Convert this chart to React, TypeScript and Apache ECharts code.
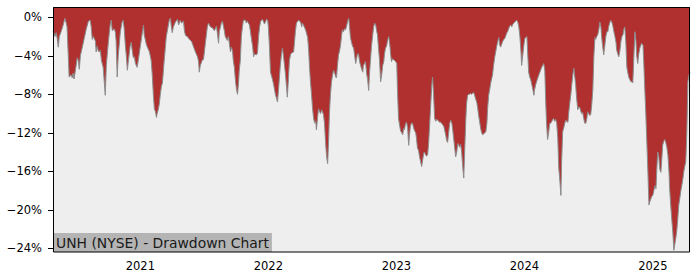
import React, { useEffect, useRef } from "react";
import * as echarts from "echarts";

// Drawdown (%), per year: [month-day, drawdown]
const dd2020: [string, number][] = [
  ["04-27",-1.4],["05-03",-2.0],["05-06",-1.6],["05-09",-2.2],["05-12",-3.1],["05-15",-2.0],["05-20",-1.5],["05-26",-0.8],["05-31",-0.1],["06-03",-0.5],["06-06",-1.0],["06-09",-3.5],["06-12",-6.2],["06-18",-6.0],["06-21",-6.3],["06-23",-5.8],["06-26",-6.4],["07-02",-5.0],["07-05",-4.2],["07-08",-4.5],["07-11",-5.4],["07-14",-4.0],["07-19",-3.2],["07-25",-2.2],["07-31",-1.2],["08-06",-0.4],["08-11",-0.3],["08-14",-1.0],["08-17",-2.3],["08-20",-2.0],["08-26",-2.5],["08-28",-3.6],["08-31",-3.0],["09-03",-3.5],["09-06",-3.6],["09-09",-3.4],["09-12",-4.5],["09-17",-5.2],["09-23",-8.1],["09-26",-5.0],["10-02",-2.5],["10-07",-0.8],["10-10",-0.3],["10-13",-1.4],["10-19",-1.2],["10-22",-1.6],["10-24",-2.5],["10-27",-6.2],["10-30",-4.0],["11-05",-1.5],["11-10",-0.5],["11-13",-0.3],["11-16",-1.2],["11-19",-2.8],["11-22",-4.0],["11-25",-5.5],["11-28",-4.5],["12-03",-3.0],["12-06",-2.6],["12-09",-3.5],["12-12",-4.2],["12-15",-4.1],["12-18",-4.8],["12-23",-5.2],["12-26",-4.5],
];
const dd2021: [string, number][] = [
  ["01-01",-3.0],["01-07",-1.5],["01-10",-0.8],["01-12",-1.8],["01-18",-2.8],["01-21",-3.1],["01-27",-3.6],["02-01",-4.5],["02-04",-6.0],["02-07",-8.0],["02-10",-9.5],["02-13",-9.8],["02-16",-10.4],["02-18",-10.0],["02-21",-9.6],["02-24",-9.0],["02-27",-8.0],["03-02",-7.2],["03-05",-6.8],["03-10",-4.5],["03-16",-2.0],["03-22",-0.8],["03-25",-0.2],["03-28",-0.1],["03-30",-0.9],["04-02",-1.6],["04-05",-1.0],["04-11",-0.5],["04-17",-0.2],["04-20",-0.8],["04-25",-0.3],["04-28",-0.6],["05-04",-0.4],["05-07",-1.5],["05-10",-1.9],["05-15",-2.0],["05-21",-2.3],["05-27",-2.5],["06-01",-3.0],["06-07",-3.6],["06-13",-4.1],["06-16",-4.6],["06-18",-5.7],["06-21",-5.0],["06-27",-4.4],["06-30",-4.4],["07-06",-2.5],["07-11",-1.0],["07-14",-0.6],["07-20",-1.0],["07-26",-1.1],["07-31",-1.4],["08-06",-0.9],["08-12",-2.7],["08-14",-1.5],["08-20",-0.6],["08-23",-0.4],["08-29",-1.5],["08-31",-2.0],["09-06",-2.4],["09-09",-2.0],["09-15",-3.6],["09-18",-3.1],["09-21",-3.6],["09-23",-4.5],["09-26",-5.2],["09-29",-6.5],["10-02",-7.5],["10-05",-8.0],["10-08",-6.8],["10-10",-5.5],["10-13",-4.5],["10-16",-2.0],["10-19",-1.0],["10-22",-0.3],["10-28",-0.3],["10-30",-0.6],["11-02",-0.4],["11-08",-0.8],["11-11",-1.5],["11-14",-2.3],["11-17",-3.0],["11-20",-4.1],["11-22",-3.8],["11-28",-3.9],["12-01",-3.7],["12-04",-2.0],["12-07",-1.0],["12-10",-0.4],["12-15",-0.2],["12-21",-0.7],["12-27",-0.2],["12-30",-0.3],
];
const dd2022: [string, number][] = [
  ["01-01",-1.0],["01-04",-3.0],["01-07",-5.7],["01-13",-6.5],["01-16",-7.0],["01-21",-8.0],["01-27",-8.8],["01-30",-7.5],["02-04",-5.0],["02-07",-4.0],["02-10",-3.2],["02-13",-4.0],["02-16",-5.0],["02-19",-6.0],["02-24",-8.3],["02-27",-6.5],["03-02",-4.5],["03-05",-3.9],["03-08",-3.7],["03-14",-3.6],["03-19",-1.5],["03-22",-0.6],["03-28",-0.3],["04-03",-0.5],["04-06",-1.0],["04-08",-0.6],["04-11",-0.8],["04-17",-1.3],["04-23",-2.1],["04-26",-3.5],["04-28",-5.0],["05-01",-6.7],["05-04",-8.0],["05-07",-9.5],["05-10",-10.5],["05-13",-11.0],["05-16",-10.8],["05-18",-11.7],["05-21",-10.5],["05-24",-9.5],["05-27",-9.8],["05-30",-10.0],["06-02",-9.6],["06-04",-9.8],["06-07",-10.1],["06-10",-11.0],["06-13",-13.0],["06-16",-14.5],["06-19",-15.2],["06-22",-12.5],["06-24",-10.0],["06-27",-8.0],["06-30",-6.7],["07-03",-6.0],["07-06",-5.5],["07-09",-5.8],["07-12",-6.2],["07-14",-6.3],["07-17",-5.0],["07-20",-3.9],["07-23",-3.5],["07-26",-2.8],["07-29",-1.8],["07-31",-1.3],["08-03",-1.5],["08-06",-1.2],["08-09",-1.3],["08-12",-0.9],["08-15",-0.4],["08-18",-0.1],["08-20",-0.8],["08-23",-2.1],["08-26",-2.6],["08-29",-3.0],["09-01",-3.2],["09-04",-4.0],["09-07",-4.8],["09-10",-4.2],["09-12",-3.8],["09-15",-3.8],["09-18",-4.6],["09-21",-5.0],["09-24",-5.4],["09-27",-5.7],["09-29",-5.0],["10-02",-4.8],["10-05",-4.6],["10-08",-5.8],["10-11",-6.5],["10-14",-7.6],["10-16",-6.0],["10-19",-4.5],["10-22",-3.0],["10-25",-2.0],["10-28",-1.0],["10-31",-0.6],["11-03",-0.8],["11-06",-1.5],["11-08",-1.8],["11-11",-3.2],["11-14",-4.5],["11-17",-6.7],["11-20",-6.0],["11-23",-5.0],["11-26",-4.6],["11-28",-3.8],["12-01",-3.2],["12-04",-3.0],["12-07",-2.4],["12-10",-2.0],["12-13",-2.8],["12-16",-4.0],["12-18",-4.6],["12-21",-4.3],["12-24",-4.4],["12-27",-4.5],["12-30",-4.6],
];
const dd2023: [string, number][] = [
  ["01-02",-4.8],["01-04",-7.5],["01-07",-10.5],["01-10",-11.2],["01-13",-11.8],["01-16",-12.0],["01-19",-12.2],["01-22",-11.5],["01-24",-11.7],["01-27",-11.0],["01-30",-10.9],["02-02",-11.5],["02-05",-13.3],["02-08",-12.0],["02-10",-11.3],["02-13",-11.0],["02-16",-11.0],["02-19",-11.5],["02-22",-11.8],["02-25",-12.0],["02-27",-12.5],["03-02",-13.6],["03-05",-13.8],["03-08",-14.5],["03-11",-15.0],["03-14",-15.5],["03-17",-14.8],["03-20",-14.1],["03-22",-14.0],["03-25",-14.3],["03-28",-14.4],["03-31",-14.3],["04-03",-13.0],["04-06",-11.0],["04-09",-9.0],["04-12",-7.0],["04-14",-6.2],["04-17",-8.0],["04-20",-10.5],["04-23",-10.8],["04-26",-10.6],["04-29",-10.7],["05-02",-10.8],["05-04",-10.9],["05-07",-10.9],["05-10",-11.0],["05-13",-11.2],["05-16",-11.3],["05-19",-11.8],["05-22",-12.3],["05-24",-12.8],["05-27",-13.0],["05-30",-12.0],["06-02",-11.0],["06-05",-10.7],["06-08",-11.0],["06-10",-11.5],["06-13",-12.5],["06-16",-13.5],["06-19",-14.5],["06-22",-14.0],["06-25",-13.1],["06-28",-13.3],["06-30",-13.5],["07-03",-13.2],["07-06",-14.0],["07-09",-15.5],["07-12",-16.7],["07-15",-13.5],["07-18",-10.5],["07-20",-9.0],["07-23",-8.1],["07-26",-8.0],["07-29",-8.0],["07-31",-7.9],["08-03",-8.0],["08-06",-7.9],["08-09",-7.8],["08-12",-8.1],["08-15",-8.5],["08-18",-8.8],["08-21",-9.5],["08-23",-10.1],["08-26",-10.8],["08-29",-11.5],["09-01",-12.0],["09-04",-12.2],["09-07",-12.1],["09-10",-12.0],["09-13",-11.9],["09-16",-11.0],["09-18",-9.5],["09-21",-8.1],["09-24",-7.5],["09-27",-6.8],["09-30",-6.3],["10-02",-6.0],["10-05",-5.0],["10-08",-4.2],["10-11",-3.6],["10-14",-3.0],["10-17",-2.5],["10-20",-2.1],["10-22",-2.8],["10-25",-3.1],["10-28",-2.8],["10-31",-2.5],["11-03",-2.3],["11-06",-2.2],["11-09",-1.9],["11-12",-1.6],["11-14",-1.5],["11-17",-1.2],["11-20",-0.9],["11-23",-0.8],["11-26",-1.0],["11-29",-0.7],["12-02",-0.6],["12-04",-0.5],["12-07",-0.4],["12-10",-0.3],["12-13",-0.5],["12-16",-1.0],["12-19",-2.0],["12-22",-3.5],["12-24",-5.0],["12-27",-4.0],["12-30",-3.0],
];
const dd2024: [string, number][] = [
  ["01-02",-2.2],["01-05",-2.1],["01-08",-2.0],["01-10",-3.5],["01-13",-5.7],["01-16",-6.2],["01-19",-6.5],["01-22",-7.0],["01-25",-7.5],["01-28",-8.1],["01-30",-7.5],["02-02",-7.0],["02-08",-6.3],["02-11",-6.0],["02-16",-5.5],["02-19",-5.2],["02-22",-5.0],["02-25",-4.8],["02-28",-5.5],["03-02",-9.1],["03-04",-11.0],["03-07",-12.7],["03-10",-12.0],["03-13",-11.0],["03-16",-11.0],["03-19",-10.8],["03-22",-10.6],["03-24",-10.5],["03-27",-10.8],["03-30",-10.6],["04-02",-11.0],["04-05",-12.5],["04-08",-15.7],["04-11",-17.0],["04-14",-18.5],["04-16",-15.0],["04-19",-11.9],["04-22",-11.5],["04-25",-11.0],["04-28",-10.7],["04-30",-10.8],["05-04",-10.9],["05-06",-10.0],["05-09",-9.0],["05-12",-8.1],["05-15",-7.0],["05-18",-6.0],["05-21",-5.3],["05-23",-6.0],["05-26",-7.0],["05-29",-8.5],["06-01",-9.6],["06-04",-9.3],["06-07",-9.4],["06-10",-9.8],["06-12",-10.0],["06-15",-9.9],["06-18",-10.5],["06-21",-11.0],["06-24",-11.0],["06-27",-10.5],["06-29",-9.8],["07-02",-10.0],["07-05",-10.2],["07-08",-10.1],["07-11",-9.0],["07-14",-7.5],["07-17",-4.0],["07-20",-2.1],["07-22",-2.3],["07-25",-2.0],["07-28",-1.8],["07-31",-1.3],["08-03",-0.5],["08-06",-1.0],["08-08",-2.0],["08-11",-3.0],["08-14",-3.9],["08-17",-3.0],["08-20",-2.0],["08-23",-1.5],["08-26",-1.5],["08-28",-1.0],["08-31",-0.6],["09-03",-0.3],["09-06",-0.5],["09-09",-0.9],["09-12",-1.5],["09-15",-2.0],["09-18",-2.6],["09-20",-3.4],["09-23",-3.8],["09-26",-4.1],["09-29",-3.5],["10-02",-2.5],["10-05",-2.0],["10-08",-1.8],["10-10",-1.3],["10-13",-1.0],["10-16",-2.5],["10-19",-5.2],["10-22",-5.8],["10-25",-6.3],["10-28",-6.5],["10-30",-6.7],["11-02",-6.7],["11-05",-6.8],["11-08",-4.0],["11-11",-1.5],["11-14",-2.5],["11-16",-4.0],["11-19",-4.8],["11-22",-3.8],["11-25",-3.2],["11-28",-2.9],["11-30",-2.7],["12-04",-2.9],["12-06",-4.5],["12-09",-7.4],["12-12",-10.0],["12-15",-13.0],["12-18",-16.1],["12-21",-19.5],["12-23",-19.2],["12-26",-18.9],["12-29",-18.6],
];
const dd2025: [string, number][] = [
  ["01-01",-18.5],["01-04",-18.0],["01-07",-17.5],["01-10",-17.8],["01-12",-16.0],["01-15",-14.0],["01-18",-14.5],["01-21",-15.8],["01-24",-16.1],["01-27",-14.5],["01-29",-13.3],["02-01",-12.9],["02-04",-12.7],["02-07",-13.0],["02-10",-13.5],["02-13",-14.3],["02-16",-16.0],["02-18",-17.8],["02-21",-19.5],["02-24",-21.0],["02-27",-22.3],["03-02",-24.2],["03-05",-23.5],["03-08",-22.8],["03-10",-22.3],["03-13",-21.0],["03-16",-19.5],["03-19",-18.8],["03-22",-18.0],["03-25",-17.4],["03-28",-16.7],["03-30",-16.1],["04-02",-15.5],["04-05",-15.0],["04-08",-12.0],["04-11",-6.7],["04-14",-6.0],["04-17",-5.7],
];

const yearSeries: [number, [string, number][]][] = [
  [2020, dd2020], [2021, dd2021], [2022, dd2022], [2023, dd2023], [2024, dd2024], [2025, dd2025],
];
const yearTickLabels = [2021, 2022, 2023, 2024, 2025];
const yTickValues = [0, -4, -8, -12, -16, -20, -24];
const titleText = "UNH (NYSE) - Drawdown Chart";

const ts = (y: number, md: string) => {
  const [m, d] = md.split("-").map(Number);
  return new Date(y, m - 1, d).getTime();
};

export default function App() {
  const ref = useRef<HTMLDivElement>(null);
  useEffect(() => {
    if (!ref.current) return;
    const chart = echarts.init(ref.current, undefined, { renderer: "svg" });
    const data = yearSeries.flatMap(([y, arr]) => arr.map(([md, v]) => [ts(y, md), v]));
    const xMin = data[0][0];
    const xMax = data[data.length - 1][0];
    const yearTicks = yearTickLabels.map((y) => new Date(y, 0, 1).getTime());
    const font = "DejaVu Sans";
    chart.setOption({
      animation: false,
      backgroundColor: "#ffffff",
      title: {
        text: titleText,
        left: 53,
        top: 233,
        padding: [2, 3, 1, 3],
        backgroundColor: "#b4b4b4",
        textStyle: { fontFamily: font, fontSize: 13.9, fontWeight: "normal", color: "#1a1a1a", lineHeight: 16 },
        z: 10,
      },
      grid: {
        left: 53, right: 10, top: 7, bottom: 28,
        show: true, backgroundColor: "#eeeeee", borderWidth: 0,
      },
      xAxis: {
        type: "value",
        min: xMin,
        max: xMax,
        splitLine: { show: false },
        axisLine: { show: false },
        axisTick: { show: true, length: 5, lineStyle: { color: "#000", width: 1 }, customValues: yearTicks },
        axisLabel: {
          customValues: yearTicks,
          formatter: (v: number) => String(new Date(v).getFullYear()),
          margin: 8,
          fontFamily: font,
          fontSize: 11.5,
          color: "#000",
        },
      },
      yAxis: {
        type: "value",
        min: -24.38,
        max: 1.07,
        splitLine: { show: false },
        axisLine: { show: false },
        axisTick: { show: true, length: 5, lineStyle: { color: "#000", width: 1 }, customValues: yTickValues },
        axisLabel: {
          customValues: yTickValues,
          formatter: (v: number) => (v === 0 ? "0%" : "\u2212" + Math.abs(v) + "%"),
          margin: 11,
          fontFamily: font,
          fontSize: 11.5,
          color: "#000",
        },
      },
      graphic: [
        {
          type: "rect",
          z: 100,
          silent: true,
          shape: { x: 53.5, y: 7.5, width: 636, height: 244.5 },
          style: { fill: "none", stroke: "#000", lineWidth: 1 },
        },
      ],
      series: [
        {
          type: "line",
          data,
          showSymbol: false,
          symbol: "none",
          lineStyle: { color: "#8c8c8c", width: 1 },
          areaStyle: { color: "#b03030", opacity: 1, origin: "end" },
          z: 2,
        },
      ],
    });
    return () => chart.dispose();
  }, []);
  return <div ref={ref} style={{ position: "absolute", left: 0, top: 0, width: 700, height: 280 }} />;
}
